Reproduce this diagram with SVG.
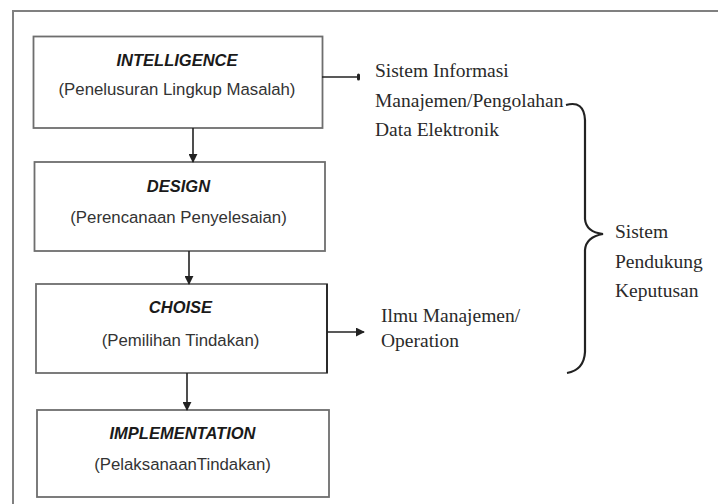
<svg xmlns="http://www.w3.org/2000/svg" width="718" height="504" viewBox="0 0 718 504">
<defs>
<style>
.frame{fill:none;stroke:#808080;stroke-width:2}
.box{fill:#fff;stroke:#6e6e6e;stroke-width:1.8}
.t{font-family:"Liberation Sans",Arial,sans-serif;font-size:16.5px;font-weight:bold;font-style:italic;fill:#1a1a1a;text-anchor:middle}
.s{font-family:"Liberation Sans",Arial,sans-serif;font-size:16.8px;fill:#333;text-anchor:middle}
.r{font-family:"Liberation Serif","Times New Roman",serif;font-size:19.5px;fill:#2a2a2a}
.c{fill:none;stroke:#222;stroke-width:1.6}
</style>
<marker id="ah" viewBox="0 0 10 10" refX="9" refY="5" markerWidth="9" markerHeight="9" markerUnits="userSpaceOnUse" orient="auto">
<path d="M0,0 L10,5 L0,10 Z" fill="#222"/>
</marker>
</defs>
<rect width="718" height="504" fill="#fff"/>
<path class="frame" d="M13,504 V11 H718"/>
<g id="intelligence">
<rect class="box" x="33.5" y="36.5" width="289" height="91.5"/>
<text class="t" x="177" y="66">INTELLIGENCE</text>
<text class="s" x="177" y="95">(Penelusuran Lingkup Masalah)</text>
</g>
<g id="design">
<rect class="box" x="34.5" y="162" width="290.5" height="89"/>
<text class="t" x="178.5" y="192">DESIGN</text>
<text class="s" x="178.5" y="223">(Perencanaan Penyelesaian)</text>
</g>
<g id="choise">
<rect class="box" x="36" y="284" width="291" height="89"/>
<line x1="327" y1="284" x2="327" y2="373" stroke="#222" stroke-width="1.8"/>
<text class="t" x="180.5" y="313">CHOISE</text>
<text class="s" x="180.5" y="346">(Pemilihan Tindakan)</text>
</g>
<g id="implementation">
<rect class="box" x="37" y="410" width="292" height="87"/>
<text class="t" x="182.5" y="439">IMPLEMENTATION</text>
<text class="s" x="182.5" y="470">(PelaksanaanTindakan)</text>
</g>
<g id="sim">
<text class="r" x="375" y="77">Sistem Informasi</text>
<text class="r" x="375" y="107">Manajemen/Pengolahan</text>
<text class="r" x="375" y="136">Data Elektronik</text>
</g>
<g id="ilmu">
<text class="r" x="381" y="322">Ilmu Manajemen/</text>
<text class="r" x="381" y="347">Operation</text>
</g>
<g id="spk">
<text class="r" x="615" y="238">Sistem</text>
<text class="r" x="615" y="268">Pendukung</text>
<text class="r" x="615" y="297">Keputusan</text>
</g>
<g id="connectors">
<line class="c" x1="193" y1="128" x2="193" y2="162" marker-end="url(#ah)"/>
<line class="c" x1="189" y1="251" x2="189" y2="284" marker-end="url(#ah)"/>
<line class="c" x1="187" y1="373" x2="187" y2="410" marker-end="url(#ah)"/>
<line class="c" x1="322" y1="77" x2="358" y2="77"/>
<rect x="357" y="73.5" width="3" height="7" rx="1.5" fill="#222"/>
<line class="c" x1="327" y1="332" x2="364" y2="332" marker-end="url(#ah)"/>
<path d="M566,105 Q584,100 585,120 V219 Q586,232 603,234 Q586,237 585,250 V352 Q584,370 567,373" fill="none" stroke="#222" stroke-width="2.2"/>
</g>
</svg>
